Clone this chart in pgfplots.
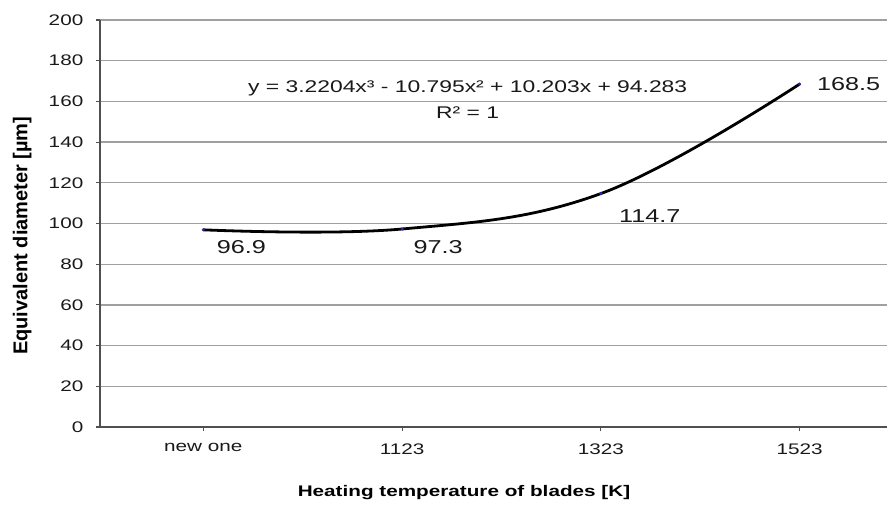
\documentclass[border=0pt]{standalone}
\usepackage{fontspec}
\setmainfont{Liberation Sans}[FakeStretch=1.35]
\newfontfamily\plainsans{Liberation Sans}
\usepackage{pgfplots}
\pgfplotsset{compat=1.18}
\definecolor{gridgray}{RGB}{160,160,160}
\definecolor{axisgray}{RGB}{80,80,80}
\definecolor{markblue}{RGB}{40,40,170}

% equivalent diameter vs heating temperature (1 = new one, 2 = 1123 K, ...)
\pgfplotstableread{
x y
1 96.9
2 97.3
3 114.7
4 168.5
}\diam

\begin{document}
\begin{tikzpicture}
\useasboundingbox (-75pt,-60pt) rectangle (590.25pt,320.25pt);
\begin{axis}[
    scale only axis,
    width=590.25pt, height=305.25pt,
    xmin=0.48, xmax=4.44,
    ymin=0, ymax=200,
    axis x line*=bottom, axis y line*=left,
    axis line style={axisgray, line width=1.2pt},
    xtick={1,2,3,4},
    xticklabels={new one,1123,1323,1523},
    ytick distance=20,
    tick align=outside,
    major tick length=3pt,
    tick style={axisgray, line width=0.8pt},
    ymajorgrids,
    grid style={gridgray, line width=1pt},
    /pgf/number format/assume math mode=true,
    tick label style={font=\fontsize{11.5}{13}\selectfont, text=black!90},
    yticklabel style={anchor=east, xshift=-6pt},
    xticklabel style={anchor=north, yshift=-6pt},
    xlabel={Heating temperature of blades [K]},
    xlabel style={at={(axis description cs:0.4625,-0.16)}, anchor=center,
        font=\bfseries\fontsize{11.5}{13}\selectfont, text=black},
    ylabel={Equivalent diameter [µm]},
    ylabel style={at={(axis description cs:-0.099,0.47)}, anchor=center,
        font=\plainsans\bfseries\fontsize{15}{17}\selectfont, text=black},
]

% fitted cubic trendline
\addplot[black, line width=2.1pt, smooth, tension=0.65] table[x=x, y=y] {\diam};
% data points
\addplot[only marks, mark=*, mark size=1pt, markblue] table[x=x, y=y] {\diam};

\node[font=\fontsize{14}{16}\selectfont, text=black!90, xshift=28.5pt, yshift=-12.75pt] at (axis cs:1,96.9) {96.9};
\node[font=\fontsize{14}{16}\selectfont, text=black!90, xshift=27pt, yshift=-13.5pt] at (axis cs:2,97.3) {97.3};
\node[font=\fontsize{14}{16}\selectfont, text=black!90, xshift=36.75pt, yshift=-16.5pt] at (axis cs:3,114.7) {114.7};
\node[font=\fontsize{14}{16}\selectfont, text=black!90, xshift=36.75pt] at (axis cs:4,168.5) {168.5};

\node[font=\fontsize{12.7}{14}\selectfont, text=black!90] at (axis cs:2.33,166.6) {y = 3.2204x³ - 10.795x² + 10.203x + 94.283};
\node[font=\fontsize{12.7}{14}\selectfont, text=black!90] at (axis cs:2.33,154.3) {R² = 1};

\end{axis}
\end{tikzpicture}
\end{document}
